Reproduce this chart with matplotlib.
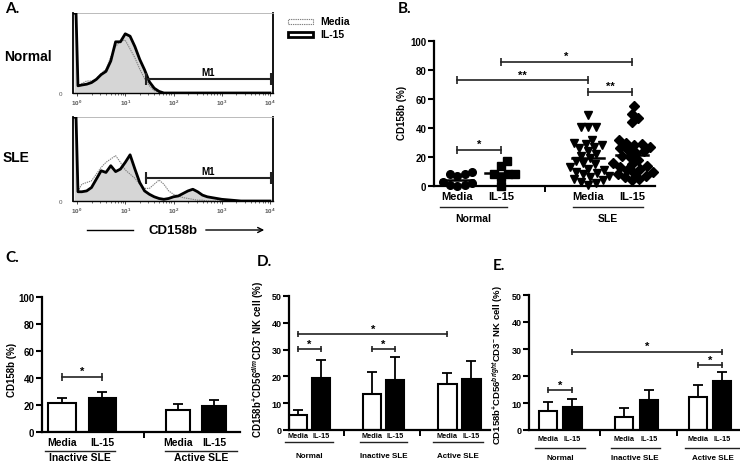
import numpy as np
import matplotlib
matplotlib.use("Agg")
import matplotlib.pyplot as plt
from matplotlib.lines import Line2D
from matplotlib.patches import Rectangle, FancyArrowPatch
from matplotlib.transforms import blended_transform_factory

plt.rcParams['font.family'] = ['Liberation Sans', 'DejaVu Sans']
plt.rcParams['font.weight'] = 'bold'
plt.rcParams['mathtext.fontset'] = 'custom'
plt.rcParams['mathtext.rm'] = 'Liberation Sans:bold'
plt.rcParams['mathtext.bf'] = 'Liberation Sans:bold'
plt.rcParams['mathtext.it'] = 'Liberation Sans:bold:italic'
plt.rcParams['mathtext.default'] = 'rm'

# ---------------- data ----------------
# Panel A: flow cytometry histograms (log10 CD158b intensity vs % of max)
hist_log_intensity = [-0.06, -0.02, 0.02, 0.1, 0.2, 0.3, 0.4, 0.5, 0.6, 0.7, 0.8, 0.9,
                      1.0, 1.1, 1.2, 1.3, 1.4, 1.5, 1.6, 1.7, 1.8, 1.9, 2.0, 2.1, 2.2,
                      2.3, 2.4, 2.5, 2.6, 2.7, 2.8, 2.9, 3.0, 3.2, 3.4, 4.0]
normal_media_hist = [100, 100, 8, 12, 15, 15, 18, 24, 30, 45, 58, 65, 66, 55, 44, 30,
                     18, 9, 3, 1, 0, 0, 0, 0, 0, 0, 0, 0, 0, 0, 0, 0, 0, 0, 0, 0]
normal_il15_hist = [100, 100, 9, 10, 11, 13, 17, 23, 27, 40, 64, 64, 74, 71, 58, 42,
                    29, 14, 6, 2, 0, 0, 0, 0, 0, 0, 0, 0, 0, 0, 0, 0, 0, 0, 0, 0]
sle_media_hist = [100, 100, 12, 20, 22, 24, 32, 40, 46, 50, 54, 46, 37, 32, 27, 20,
                  15, 15, 20, 25, 20, 12, 8, 6, 4, 3, 2, 1, 1, 0, 0, 0, 0, 0, 0, 0]
sle_il15_hist = [100, 100, 11, 11, 12, 16, 26, 36, 34, 42, 35, 38, 46, 55, 38, 22,
                 12, 8, 5, 3, 2, 3, 5, 6, 9, 12, 14, 11, 7, 5, 4, 3, 2, 1, 0, 0]
hist_decades = [0, 1, 2, 3, 4]
m1_gate = [1.43, 4.02]

# Panel B: CD158b (%) per donor
normal_media_pct = [8, 7, 8, 10, 3, 2, 1, 0, 1]
normal_il15_pct = [17, 14, 8, 8, 8, 6, 0]
sle_media_pct = [49, 41, 41, 41, 32, 30, 29, 28, 27, 26, 24, 22, 21, 19, 17, 16, 15,
                 13, 12, 11, 10, 9, 8, 7, 5, 4, 1, 3, 2, 6]
sle_il15_pct = [55, 50, 47, 44, 32, 30, 29, 28, 27, 26, 25, 24, 23, 21, 20, 18, 16,
                15, 14, 13, 12, 11, 10, 9, 8, 7, 6, 5, 4]
b_conditions = ['Media', 'IL-15', 'Media', 'IL-15']
b_groups = ['Normal', 'SLE']
b_sig_pairs = [(0, 1), (0, 2), (1, 3), (2, 3)]
b_sig_heights = [25, 73, 85.5, 65]
b_sig_labels = ['*', '**', '*', '**']

# Panel C: CD158b (%) mean + SEM
c_groups = ['Inactive SLE', 'Active SLE']
c_media_mean = [21.5, 16.5]
c_media_sem = [3.5, 4.5]
c_il15_mean = [25.5, 19.5]
c_il15_sem = [4.5, 4.0]
c_sig_pairs = [(0, 1)]
c_sig_heights = [41]
c_sig_labels = ['*']

# Panel D: CD158b+CD56dim CD3- NK cell (%)
de_groups = ['Normal', 'Inactive SLE', 'Active SLE']
d_media_mean = [5.5, 13.3, 17.3]
d_media_sem = [1.9, 8.3, 4.1]
d_il15_mean = [19.5, 18.8, 19.0]
d_il15_sem = [6.8, 8.3, 6.7]
d_sig_pairs = [(0, 1), (2, 3), (0, 4)]
d_sig_heights = [30.2, 30.2, 35.8]
d_sig_labels = ['*', '*', '*']

# Panel E: CD158b+CD56bright CD3- NK cell (%)
e_media_mean = [7.0, 5.0, 12.3]
e_media_sem = [3.4, 3.1, 4.4]
e_il15_mean = [8.5, 11.2, 18.0]
e_il15_sem = [3.0, 3.6, 3.5]
e_sig_pairs = [(0, 1), (1, 5), (4, 5)]
e_sig_heights = [14.8, 29.0, 24.0]
e_sig_labels = ['*', '*', '*']

# ---------------- figure ----------------
W, H = 740, 464
fig = plt.figure(figsize=(W / 100, H / 100), dpi=100)
fig.patch.set_facecolor('white')


def fy(ypx):
    return 1 - ypx / H


def add_axes_px(x0, ytop, x1, ybot):
    return fig.add_axes([x0 / W, 1 - ybot / H, (x1 - x0) / W, (ybot - ytop) / H])


def fig_text(xpx, ypx, s, **kw):
    fig.text(xpx / W, fy(ypx), s, **kw)


def fig_line(x0, x1, ypx, lw=1.0, color='black'):
    fig.add_artist(Line2D([x0 / W, x1 / W], [fy(ypx), fy(ypx)], color=color, lw=lw,
                          transform=fig.transFigure))


# ---------- Panel A ----------
def hist_panel(ax, media, il15, m1_y):
    x = np.array(hist_log_intensity)
    ax.fill_between(x, np.array(il15), 0, color='#d6d6d6', lw=0, zorder=1)
    ax.plot(x, media, color='#808080', lw=0.8, ls=(0, (1.2, 0.8)), zorder=2)
    ax.plot(x, il15, color='black', lw=2.0, zorder=3, solid_joinstyle='round')
    ax.set_xlim(-0.083, 4.062)
    ax.set_ylim(0, 100)
    ax.set_xticks(hist_decades)
    ax.set_xticklabels([r'$10^{%d}$' % d for d in hist_decades], fontsize=4.5,
                       color='#555555', fontweight='normal')
    minor = [d + np.log10(m) for d in hist_decades[:-1] for m in range(2, 10)]
    ax.set_xticks(minor, minor=True)
    ax.tick_params(axis='x', which='major', length=2.5, width=0.6, pad=1, color='#333333')
    ax.tick_params(axis='x', which='minor', length=1.5, width=0.5, color='#333333')
    ax.set_yticks([0])
    ax.set_yticklabels(['0'], fontsize=4.5, color='#555555', fontweight='normal')
    ax.tick_params(axis='y', length=0, pad=8)
    ax.spines['top'].set_color('#b0b0b0')
    ax.spines['top'].set_linewidth(0.6)
    ax.spines['right'].set_linewidth(1.3)
    ax.spines['left'].set_linewidth(1.3)
    ax.spines['bottom'].set_linewidth(1.0)
    ax.plot(m1_gate, [m1_y, m1_y], color='#222222', lw=1.5, marker='|', ms=8, mew=1.5,
            zorder=4, clip_on=False)
    ax.annotate('M1', ((m1_gate[0] + m1_gate[1]) / 2, m1_y), xytext=(0, 1.5),
                textcoords='offset points', ha='center', va='bottom', fontsize=7)


axA1 = add_axes_px(73, 14, 273, 94)
hist_panel(axA1, normal_media_hist, normal_il15_hist, 17.5)
axA2 = add_axes_px(73, 118, 273, 202)
hist_panel(axA2, sle_media_hist, sle_il15_hist, 27.4)

fig_text(5, 9, 'A.', fontsize=11, family='Lato', fontweight='bold', va='center')
fig_text(4, 57, 'Normal', fontsize=10, va='center')
fig_text(3, 158, 'SLE', fontsize=10, va='center')
fig_text(173, 231, 'CD158b', fontsize=9.5, ha='center', va='center')
fig_line(87, 133, 231, lw=1.0)
fig.add_artist(FancyArrowPatch((203 / W, fy(231)), (267 / W, fy(231)),
                               transform=fig.transFigure, arrowstyle='->',
                               mutation_scale=9, lw=1.0, color='black'))
# legend
fig.add_artist(Rectangle((288 / W, fy(25)), 25 / W, 5 / H, transform=fig.transFigure,
                         fill=False, ec='#808080', lw=0.8, ls=(0, (1.2, 0.8))))
fig.add_artist(Rectangle((288 / W, fy(38)), 25 / W, 5 / H, transform=fig.transFigure,
                         fill=False, ec='black', lw=2.0))
fig_text(320, 22, 'Media', fontsize=7.5, va='center')
fig_text(320, 35.5, 'IL-15', fontsize=7.5, va='center')


# ---------- helpers ----------
def style_bar_axes(ax, ymax, ystep, fs):
    ax.set_ylim(0, ymax)
    ax.set_yticks(np.arange(0, ymax + 0.1, ystep))
    ax.tick_params(axis='y', labelsize=fs, length=4, width=1.5, pad=1.5)
    for t in ax.get_yticklabels():
        t.set_fontweight('bold')
    ax.spines['top'].set_visible(False)
    ax.spines['right'].set_visible(False)
    ax.spines['left'].set_linewidth(1.6)
    ax.spines['bottom'].set_linewidth(1.6)
    ax.set_xticks([])


def gap_ticks(ax, xs):
    ax.set_xticks(xs, minor=True)
    ax.tick_params(axis='x', which='minor', length=4, width=1.4)


def cat_labels(ax, xs, labels, ypx, fs):
    tr = blended_transform_factory(ax.transData, fig.transFigure)
    for x, lab in zip(xs, labels):
        ax.text(x, fy(ypx), lab, transform=tr, ha='center', va='center', fontsize=fs,
                clip_on=False)


def group_lines(ax, spans, labels, yline, ylab, fs, lw=1.0):
    tr = blended_transform_factory(ax.transData, fig.transFigure)
    for (a, b), lab in zip(spans, labels):
        ax.add_artist(Line2D([a, b], [fy(yline)] * 2, transform=tr, color='#222222', lw=lw,
                             clip_on=False))
        ax.text((a + b) / 2, fy(ylab), lab, transform=tr, ha='center', va='center',
                fontsize=fs, clip_on=False)


def sig(ax, xs, pairs, heights, labels, fs=8, ms=6):
    for (i, j), h, lab in zip(pairs, heights, labels):
        ax.plot([xs[i], xs[j]], [h, h], color='#222222', lw=1.2, marker='|', ms=ms,
                mew=1.2, clip_on=False, zorder=5)
        ax.annotate(lab, ((xs[i] + xs[j]) / 2, h), xytext=(0, 0.5),
                    textcoords='offset points', ha='center', va='bottom', fontsize=fs)


def swarm(values, y_px_per_unit, x_px_per_unit, diam):
    vals = np.asarray(values, float)
    order = np.argsort(vals)
    placed = []
    offs = np.zeros(len(vals))
    for i in order:
        y = vals[i] * y_px_per_unit
        chosen = 0.0
        for step in range(0, 400):
            found = False
            for sgn in (1, -1):
                x = sgn * step * 0.5
                if all((x - px) ** 2 + (y - py) ** 2 >= diam ** 2 for px, py in placed):
                    chosen = x
                    found = True
                    break
            if found:
                break
        placed.append((chosen, y))
        offs[i] = chosen / x_px_per_unit
    return offs


# ---------- Panel B ----------
axB = add_axes_px(434, 42, 655, 187)
style_bar_axes(axB, 100, 20, 7)
axB.set_xlim(0.47, 5.53)
b_pos = [1, 2, 4, 5]
xppu = 221 / (5.53 - 0.47)
yppu = 145 / 100
b_data = [normal_media_pct, normal_il15_pct, sle_media_pct, sle_il15_pct]
b_markers = ['o', 's', 'v', 'D']
b_ms = [5.5, 5.5, 6.0, 5.0]
for pos, vals, mk, ms in zip(b_pos, b_data, b_markers, b_ms):
    offs = swarm(vals, yppu, xppu, 7.5)
    axB.plot(pos + offs, vals, ls='none', marker=mk, ms=ms, color='black',
             clip_on=False, zorder=3)
    m = np.mean(vals)
    axB.plot([pos - 0.36, pos + 0.36], [m, m], color='black', lw=1.8, zorder=4)
gap_ticks(axB, [3])
cat_labels(axB, b_pos, b_conditions, 197, 8)
group_lines(axB, [(0.6, 2.15), (3.65, 5.25)], b_groups, 208, 219, 7.5)
sig(axB, b_pos, b_sig_pairs, b_sig_heights, b_sig_labels, fs=8)
fig_text(402, 113, 'CD158b (%)', fontsize=7, rotation=90, ha='center', va='center')
fig_text(398, 9, 'B.', fontsize=11, family='Lato', fontweight='bold', va='center')


# ---------- bar panels ----------
def bar_panel(ax, centers, widths, means, sems, colors):
    for c, w, m, s, col in zip(centers, widths, means, sems, colors):
        ax.bar(c, m, width=w, color=col, edgecolor='black', lw=1.5, zorder=2)
        ax.errorbar(c, m, yerr=[[0], [s]], fmt='none', ecolor='black', elinewidth=1.3,
                    capsize=3.5, capthick=1.3, zorder=3)


# Panel C
axC = add_axes_px(42, 298, 240, 433)
style_bar_axes(axC, 100, 20, 7)
axC.set_xlim(0, 4.95)
c_pos = [0.5, 1.51, 3.4, 4.31]
c_w = [0.7, 0.68, 0.6, 0.6]
c_means = [c_media_mean[0], c_il15_mean[0], c_media_mean[1], c_il15_mean[1]]
c_sems = [c_media_sem[0], c_il15_sem[0], c_media_sem[1], c_il15_sem[1]]
bar_panel(axC, c_pos, c_w, c_means, c_sems, ['white', 'black', 'white', 'black'])
gap_ticks(axC, [2.55])
cat_labels(axC, c_pos, ['Media', 'IL-15'] * 2, 443, 7.5)
group_lines(axC, [(0.08, 1.83), (3.08, 4.88)], c_groups, 452, 458, 7.5)
sig(axC, c_pos, c_sig_pairs, c_sig_heights, c_sig_labels, fs=8)
fig_text(12, 370, 'CD158b (%)', fontsize=7, rotation=90, ha='center', va='center')
fig_text(5, 258, 'C.', fontsize=11, family='Lato', fontweight='bold', va='center')

# Panel D
axD = add_axes_px(289, 297, 490, 431)
style_bar_axes(axD, 50, 10, 6.5)
axD.set_xlim(0, 201 / 24)
d_pos = [0.375, 1.33, 3.46, 4.42, 6.6, 7.6]
d_means = [v for pair in zip(d_media_mean, d_il15_mean) for v in pair]
d_sems = [v for pair in zip(d_media_sem, d_il15_sem) for v in pair]
bar_panel(axD, d_pos, [0.78] * 6, d_means, d_sems, ['white', 'black'] * 3)
gap_ticks(axD, [2.3, 5.45])
cat_labels(axD, d_pos, ['Media', 'IL-15'] * 3, 437, 5.3)
group_lines(axD, [(-0.17, 1.83), (2.96, 4.92), (6.0, 8.1)], de_groups, 443, 457, 5.8)
sig(axD, d_pos, d_sig_pairs, d_sig_heights, d_sig_labels, fs=8, ms=5)
fig_text(258, 359, r'CD158b$^{+}$CD56$^{\it dim}$CD3$^{-}$ NK cell (%)', fontsize=7,
         rotation=90, ha='center', va='center')
fig_text(257, 262, 'D.', fontsize=11, family='Lato', fontweight='bold', va='center')

# Panel E
axE = add_axes_px(529, 296, 740, 431)
style_bar_axes(axE, 50, 10, 6.5)
axE.set_xlim(0, 211 / 24)
e_pos = [0.79, 1.81, 3.96, 5.0, 7.04, 8.04]
e_means = [v for pair in zip(e_media_mean, e_il15_mean) for v in pair]
e_sems = [v for pair in zip(e_media_sem, e_il15_sem) for v in pair]
bar_panel(axE, e_pos, [0.78] * 6, e_means, e_sems, ['white', 'black'] * 3)
gap_ticks(axE, [2.96, 6.17])
cat_labels(axE, e_pos, ['Media', 'IL-15'] * 3, 440, 5.3)
group_lines(axE, [(0.25, 2.33), (3.4, 5.45), (6.5, 8.79)], de_groups, 449, 459, 5.8)
sig(axE, e_pos, e_sig_pairs, e_sig_heights, e_sig_labels, fs=8, ms=5)
fig_text(498, 365, r'CD158b$^{+}$CD56$^{\it bright}$CD3$^{-}$ NK cell (%)', fontsize=6.8,
         rotation=90, ha='center', va='center')
fig_text(493, 266, 'E.', fontsize=11, family='Lato', fontweight='bold', va='center')

fig.savefig('out.png', dpi=100)
